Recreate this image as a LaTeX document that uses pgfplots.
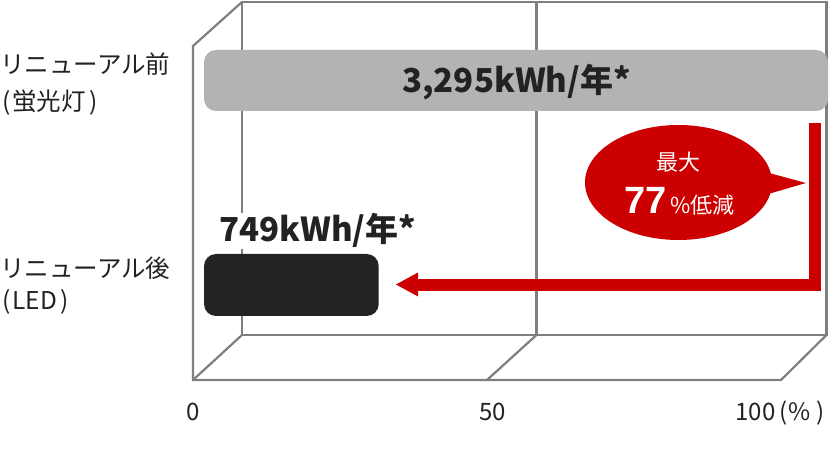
\documentclass[border=0pt]{standalone}
\usepackage{fontspec}
\setmainfont{Noto Sans CJK JP}
\newfontfamily\arialf{Liberation Sans}
\usepackage{pgfplots}
\pgfplotsset{compat=1.18}
\definecolor{framegray}{HTML}{7F7F7F}
\definecolor{bargray}{HTML}{B3B3B3}
\definecolor{bardark}{HTML}{232323}
\definecolor{txt}{HTML}{222222}
\definecolor{accent}{HTML}{CC0000}
% pixel position -> percent axis unit (0 % at px 204, 100 % at px 828)
\newcommand{\px}[1]{(#1-204)/6.24}
\newcommand{\fs}[1]{\fontsize{#1bp}{#1bp}\selectfont}

\begin{document}
\begin{tikzpicture}
\begin{axis}[
    scale only axis,
    width=830bp, height=450bp,
    xmin=-32.6923, xmax=100.3205,
    ymin=0, ymax=450, y dir=reverse,
    hide axis, clip=false, enlargelimits=false,
]
% back wall
\draw[framegray, line width=2.2bp]
    ({\px{242}},335) -- ({\px{242}},2) -- ({\px{826.5}},2) -- ({\px{826.5}},335) -- cycle;
\draw[framegray, line width=2.2bp] ({\px{536.5}},2) -- ({\px{536.5}},335);
% floor and front edge
\draw[framegray, line width=2.2bp]
    ({\px{242}},2) -- ({\px{193}},46) -- ({\px{193}},380) -- ({\px{781}},380) -- ({\px{826.5}},335);
\draw[framegray, line width=2.2bp] ({\px{193}},380) -- ({\px{242}},335);
\draw[framegray, line width=2.2bp] ({\px{487}},380) -- ({\px{536.5}},335);

% bars (percent of the old consumption)
\addplot[xbar, bar shift=0, bar width=61, fill=bargray, draw=none, rounded corners=12bp]
    coordinates {(100,80.5)};
\addplot[xbar, bar shift=0, bar width=62, fill=bardark, draw=none, rounded corners=12bp]
    coordinates {(28,285)};

% bar labels
\node[anchor=base, inner sep=0, text=txt, font=\bfseries\fs{33}] at ({\px{516.5}},93) {3,295kWh/年*};
\node[anchor=base, inner sep=1bp, fill=white, text=txt, font=\bfseries\fs{33}] at ({\px{317.5}},242) {749kWh/年*};

% category labels
\node[anchor=base west, inner sep=0, text=txt, font=\fs{24.5}] at ({\px{0}},73.3) {リニューアル前};
\node[anchor=base west, inner sep=0, text=txt, font=\fs{24.5}] at ({\px{2}},111) {(\kern2bp蛍光灯\kern4bp)};
\node[anchor=base west, inner sep=0, text=txt, font=\fs{24.5}] at ({\px{0}},278) {リニューアル後};
\node[anchor=base west, inner sep=0, text=txt, font=\fs{24.5}] at ({\px{2}},310) {(\kern2bp LED\kern3bp)};

% scale labels
\node[anchor=base, inner sep=0, text=txt, font=\fs{24}] at ({\px{193.5}},420.5) {0};
\node[anchor=base, inner sep=0, text=txt, font=\fs{24}] at ({\px{492.5}},420.5) {50};
\node[anchor=base east, inner sep=0, text=txt, font=\fs{24}] at ({\px{825}},420.5) {100\kern4bp(\kern1bp\%\kern6bp)};

% reduction arrow
\draw[accent, line width=11.5bp] ({\px{815}},123) -- ({\px{815}},285) -- ({\px{417}},285);
\fill[accent] ({\px{396}},284.5) -- ({\px{418}},272.5) -- ({\px{418}},296.5) -- cycle;

% speech bubble
\fill[accent] ({\px{678.5}},182.5) ellipse [x radius=93.5bp, y radius=57.5bp];
\fill[accent] ({\px{758}},170) -- ({\px{806}},183) -- ({\px{758}},197) -- cycle;
\node[anchor=base, inner sep=0, text=white, font=\fs{22}] at ({\px{678.5}},171) {最大};
\node[anchor=base, inner sep=0, text=white] at ({\px{679.5}},213.5)
    {{\arialf\bfseries\fs{38}77}\hspace{4bp}{\fs{22}\%低減}};
\end{axis}
\pgfresetboundingbox
\path (current axis.south west) rectangle (current axis.north east);
\end{tikzpicture}
\end{document}
